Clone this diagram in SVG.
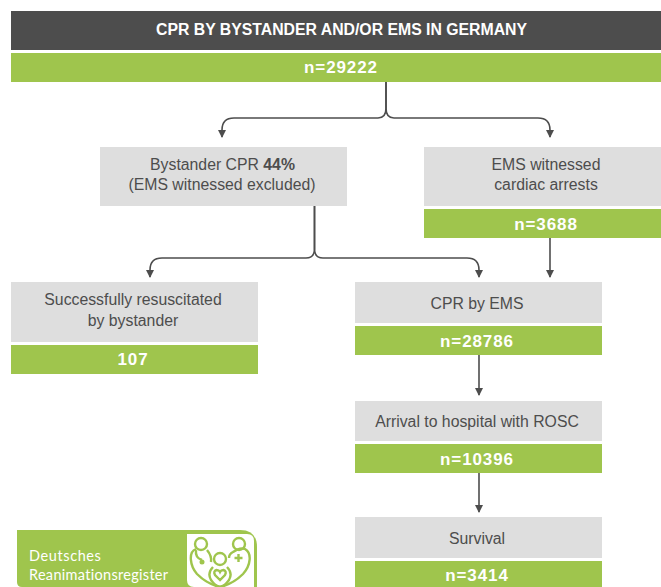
<svg xmlns="http://www.w3.org/2000/svg" width="661" height="587" viewBox="0 0 661 587">
<style>
.g{fill:#dedede}.v{fill:#9fc54d}.d{fill:#4d4d4d}
text{font-family:"Liberation Sans",Arial,sans-serif;text-anchor:middle}
.l{font-size:15.800px;fill:#4d4d4d}
.n{font-size:17px;font-weight:700;fill:#fff;letter-spacing:.9px}
.c{fill:none;stroke:#4d4d4d;stroke-width:1.600}
.i{fill:none;stroke:#9fc54d;stroke-width:2.400}
.t{font-family:Lato,"Open Sans",sans-serif;font-size:14.500px;fill:#fff;text-anchor:start}
</style>
<defs>
<marker id="h" viewBox="0 0 8 8" refX="7" refY="4" markerWidth="8" markerHeight="8" markerUnits="userSpaceOnUse" orient="auto"><path d="M0 0L8 4L0 8Z" fill="#4d4d4d"/></marker></defs>
<rect width="661" height="587" fill="#fff"/>
<g id="connectors">
<path class="c" marker-end="url(#h)" d="M386 82V108Q386 118 378 118H234Q222 118 222 130V137"/>
<path class="c" marker-end="url(#h)" d="M386 82V108Q386 118 394 118H538Q550 118 550 130V137"/>
<path class="c" marker-end="url(#h)" d="M314.500 206V249Q314.500 258 306 258H162Q150 258 150 270V277"/>
<path class="c" marker-end="url(#h)" d="M314.500 206V249Q314.500 258 323 258H467Q479 258 479 270V277"/>
<path class="c" marker-end="url(#h)" d="M550 238V277"/>
<path class="c" marker-end="url(#h)" d="M479 355V395"/>
<path class="c" marker-end="url(#h)" d="M479 473V512"/>
</g>
<g id="title"><rect class="d" x="11" y="11" width="650" height="39"/><text x="341.500" y="35" font-size="15.800" font-weight="700" fill="#fff">CPR BY BYSTANDER AND/OR EMS IN GERMANY</text></g>
<g id="total"><rect class="v" x="11" y="53" width="650" height="29"/><text class="n" x="341" y="73">n=29222</text></g>
<g id="bystander"><rect class="g" x="100" y="147" width="247" height="59"/><text class="l" x="222.500" y="170">Bystander CPR <tspan font-weight="700">44%</tspan></text><text class="l" x="222" y="190">(EMS witnessed excluded)</text></g>
<g id="ems-witnessed"><rect class="g" x="424" y="147" width="237" height="59"/><rect class="v" x="424" y="209" width="237" height="29"/><text class="l" x="546" y="170">EMS witnessed</text><text class="l" x="546" y="190">cardiac arrests</text><text class="n" x="546" y="230">n=3688</text></g>
<g id="resuscitated"><rect class="g" x="11" y="282" width="247" height="60"/><rect class="v" x="11" y="345" width="247" height="29"/><text class="l" x="133" y="305">Successfully resuscitated</text><text class="l" x="133" y="326">by bystander</text><text class="n" x="133" y="365">107</text></g>
<g id="cpr-ems"><rect class="g" x="355" y="282" width="247" height="41"/><rect class="v" x="355" y="326" width="247" height="29"/><text class="l" x="477" y="309">CPR by EMS</text><text class="n" x="477" y="347">n=28786</text></g>
<g id="arrival"><rect class="g" x="355" y="401" width="247" height="40"/><rect class="v" x="355" y="444" width="247" height="29"/><text class="l" x="477" y="427">Arrival to hospital with ROSC</text><text class="n" x="477" y="465">n=10396</text></g>
<g id="survival"><rect class="g" x="355" y="517" width="247" height="41"/><rect class="v" x="355" y="561" width="247" height="26"/><text class="l" x="477" y="544">Survival</text><text class="n" x="477" y="581">n=3414</text></g>
<g id="logo">
<path class="v" d="M17 530H240Q257 530 257 547V587H22Q17 587 17 582Z"/>
<path fill="#fff" d="M187 534H247Q254 534 254 541V587H194Q187 587 187 580Z"/>
<text class="t" x="29" y="561" letter-spacing=".6">Deutsches</text>
<text class="t" x="29" y="580" letter-spacing=".3">Reanimationsregister</text>
<circle class="i" cx="201" cy="544" r="6"/><circle class="i" cx="239" cy="544" r="6"/><circle class="i" cx="220" cy="559" r="6"/>
<path class="i" d="M196 549C188 552 190 566 197 574Q207 584 220 587Q233 584 243 574C251 565 252 553 245 549Q240 547 233 552Q229 554 229 558"/>
<path class="i" d="M207 550Q212 556 211 562"/>
<path class="i" d="M213 567Q207 573 211 580Q215 586 220 587Q225 586 229 580Q233 573 227 567"/>
<path class="i" d="M220 580L215 575Q213 571 216.500 570Q219 570 220 572Q221 570 223.500 570Q227 571 225 575Z" stroke-width="1.500"/>
<path class="i" d="M234.500 558H242.500M238.500 554V562" stroke-width="1.800"/>
<circle cx="202" cy="562" r="2.500" fill="#9fc54d"/>
<path class="i" stroke-width="1.500" d="M196 550Q195 558 202 560"/>
</g>
</svg>
